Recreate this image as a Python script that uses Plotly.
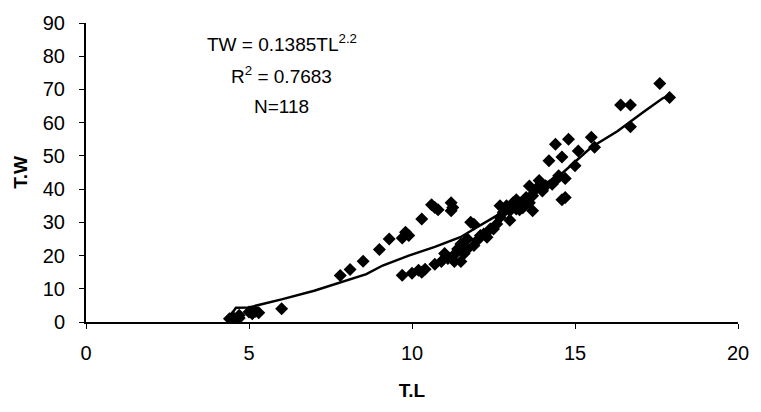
import plotly.graph_objects as go

# Observed data (T.L vs T.W)
tl = [4.4, 4.5, 4.6, 4.7, 4.7, 5.0, 5.1, 5.2, 5.3, 6.0,
      7.8, 8.1, 8.5, 9.0, 9.3, 9.7, 9.8, 9.9, 10.3, 10.6, 10.8, 10.7, 11.2, 11.2, 11.25,
      9.7, 10.0, 10.2, 10.4, 10.3, 10.7, 10.9, 11.0, 11.1, 11.3, 11.3, 11.5, 11.6, 11.4,
      11.5, 11.7, 11.7, 11.8, 11.9, 11.9, 12.0, 12.1, 12.2, 12.3, 12.4, 12.5, 12.6, 12.7,
      12.7, 12.8, 12.9, 13.0, 13.0, 13.1, 13.2, 13.2, 13.3, 13.4, 13.4, 13.5, 13.6, 13.6,
      13.7, 13.7, 13.8, 13.9, 14.0, 14.0, 14.1, 14.2, 14.3, 14.4, 14.4, 14.5, 14.6, 14.6,
      14.7, 14.7, 14.8, 15.1, 15.5, 15.6, 15.0, 16.4, 16.7, 16.7, 17.6, 17.9]
tw = [1.0, 1.5, 0.8, 1.2, 2.0, 3.0, 2.5, 3.2, 2.8, 4.0,
      14.0, 15.8, 18.3, 21.8, 25.0, 25.3, 27.0, 26.0, 31.0, 35.3, 33.8, 34.5, 35.9, 33.5, 34.5,
      14.1, 14.7, 15.6, 15.9, 15.0, 17.4, 18.2, 20.6, 19.1, 20.3, 18.2, 18.2, 20.6, 22.0,
      23.5, 25.0, 22.0, 30.0, 29.4, 23.0, 24.5, 26.0, 26.5, 25.5, 28.0, 28.0, 29.5, 31.5,
      35.0, 33.0, 35.0, 30.6, 33.5, 35.9, 36.8, 34.0, 33.8, 34.4, 36.0, 37.5, 35.9, 40.9,
      33.5, 38.0, 40.0, 42.6, 39.4, 39.7, 41.0, 48.5, 41.5, 53.5, 42.6, 44.0, 36.8, 49.7,
      43.2, 37.5, 55.0, 51.5, 55.6, 52.6, 47.0, 65.3, 65.3, 58.8, 71.8, 67.6]

# Fitted line as drawn on the chart
fit_tl = [4.4, 4.6, 5.0, 5.5, 6.0, 7.0, 8.0, 8.6, 9.1, 9.9, 10.7, 11.5, 11.9, 12.6,
          13.6, 14.6, 15.5, 16.3, 17.1, 17.7, 17.9]
fit_tw = [1.5, 4.3, 4.4, 5.5, 6.8, 9.4, 12.4, 14.4, 17.0, 20.0, 22.6, 25.6, 28.0, 32.0,
          38.8, 44.7, 52.6, 57.4, 63.2, 67.4, 68.0]

x_ticks = [0, 5, 10, 15, 20]
y_ticks = [0, 10, 20, 30, 40, 50, 60, 70, 80, 90]

ann_text = ["TW = 0.1385TL<sup>2.2</sup>", "R<sup>2</sup> = 0.7683", "N=118"]

FONT = "Liberation Sans, Arial, sans-serif"

fig = go.Figure()
fig.add_trace(go.Scatter(x=tl, y=tw, mode="markers",
                         marker=dict(symbol="diamond", size=10, color="black"),
                         showlegend=False))
fig.add_trace(go.Scatter(x=fit_tl, y=fit_tw, mode="lines",
                         line=dict(color="black", width=2.5),
                         showlegend=False))

# annotation centres in pixel rows 35, 68, 100 of the 306 px tall plot area (top at 16)
for t, py in zip(ann_text, [36, 69, 101]):
    fig.add_annotation(x=(285 - 86) / 662, y=1 - (py - 16) / 306,
                       xref="paper", yref="paper", xanchor="center", yanchor="middle",
                       text=t, showarrow=False,
                       font=dict(family=FONT, size=19, color="black"))

fig.update_layout(
    width=761, height=412,
    margin=dict(l=86, r=13, t=16, b=90),
    plot_bgcolor="white", paper_bgcolor="white",
    font=dict(family=FONT, size=20, color="black"),
)
fig.update_xaxes(range=[0, 20], tickvals=x_ticks, ticks="outside", ticklen=5,
                 tickcolor="black", showline=True, linecolor="black", linewidth=2,
                 showgrid=False, zeroline=False, ticklabelstandoff=7,
                 title=dict(text="<b>T.L</b>", font=dict(size=19), standoff=21))
fig.update_yaxes(range=[0, 90], tickvals=y_ticks, ticks="outside", ticklen=5,
                 tickcolor="black", showline=True, linecolor="black", linewidth=2,
                 showgrid=False, zeroline=False, ticklabelstandoff=10,
                 title=dict(text="<b>T.W</b>", font=dict(size=19), standoff=10))

fig.write_html("out.html")
